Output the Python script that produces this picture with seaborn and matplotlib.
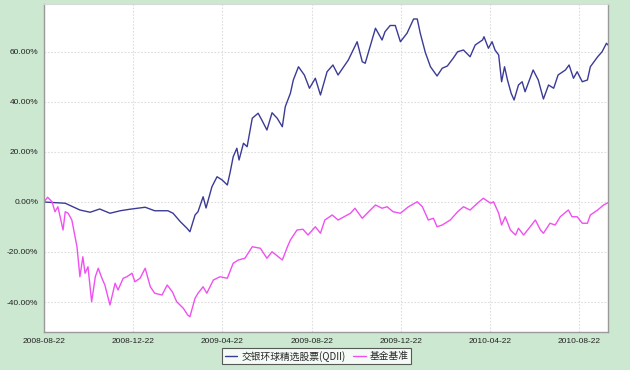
import numpy as np
import pandas as pd
import matplotlib
matplotlib.use('Agg')
import matplotlib.pyplot as plt
import matplotlib.dates as mdates
from matplotlib.ticker import FuncFormatter
import seaborn as sns

# fund (交银环球精选股票(QDII)) cumulative return, %
fund_dates = ['2008-08-22', '2008-09-20', '2008-10-10', '2008-10-24', '2008-11-06', '2008-11-20',
              '2008-12-04', '2008-12-17', '2009-01-07', '2009-01-20', '2009-02-07', '2009-02-14',
              '2009-02-24', '2009-03-05', '2009-03-09', '2009-03-16', '2009-03-20', '2009-03-27',
              '2009-03-31', '2009-04-08', '2009-04-15', '2009-04-22', '2009-04-29', '2009-05-03',
              '2009-05-07', '2009-05-12', '2009-05-15', '2009-05-21', '2009-05-26', '2009-06-02',
              '2009-06-10', '2009-06-15', '2009-06-22', '2009-06-29', '2009-07-06', '2009-07-13',
              '2009-07-17', '2009-07-24', '2009-07-28', '2009-08-04', '2009-08-12', '2009-08-19',
              '2009-08-27', '2009-09-03', '2009-09-12', '2009-09-20', '2009-09-27', '2009-10-11',
              '2009-10-23', '2009-10-30', '2009-11-03', '2009-11-17', '2009-11-26', '2009-11-30',
              '2009-12-07', '2009-12-14', '2009-12-21', '2009-12-30', '2010-01-08', '2010-01-13',
              '2010-01-17', '2010-01-24', '2010-01-31', '2010-02-09', '2010-02-16', '2010-02-23',
              '2010-03-03', '2010-03-09', '2010-03-17', '2010-03-26', '2010-04-02', '2010-04-12',
              '2010-04-14', '2010-04-20', '2010-04-25', '2010-04-29', '2010-05-04', '2010-05-08',
              '2010-05-12', '2010-05-16', '2010-05-21', '2010-05-25', '2010-05-31', '2010-06-05',
              '2010-06-09', '2010-06-20', '2010-06-27', '2010-07-04', '2010-07-11', '2010-07-18',
              '2010-07-24', '2010-08-03', '2010-08-08', '2010-08-14', '2010-08-19', '2010-08-26',
              '2010-09-02', '2010-09-06', '2010-09-16', '2010-09-22', '2010-09-28', '2010-09-30']
fund_vals = [0.0, -0.5, -3.2, -4.1, -2.8, -4.5,
             -3.5, -2.9, -2.1, -3.5, -3.5, -4.5,
             -7.9, -10.5, -11.9, -5.2, -3.9, 2.1,
             -2.4, 6.1, 10.1, 8.8, 6.8, 12.1,
             18.1, 21.5, 16.8, 23.5, 22.1, 33.5,
             35.5, 32.8, 28.8, 35.7, 33.5, 30.1,
             38.1, 43.5, 48.8, 54.1, 50.8, 45.5,
             49.5, 42.8, 52.1, 54.8, 50.8, 56.8,
             64.1, 56.1, 55.5, 69.5, 64.8, 68.1,
             70.6, 70.6, 64.1, 67.5, 73.2, 73.2,
             67.6, 59.8, 54.1, 50.4, 53.5, 54.4,
             57.5, 60.1, 60.8, 58.1, 62.8, 64.8,
             66.1, 61.5, 64.1, 60.8, 58.8, 48.1,
             54.1, 48.8, 43.5, 40.8, 46.8, 48.1,
             44.1, 52.8, 48.8, 41.2, 46.8, 45.5,
             50.8, 52.8, 54.8, 49.5, 52.1, 48.1,
             48.8, 54.1, 58.1, 60.1, 63.5, 62.8]

# benchmark (基金基准) cumulative return, %
bench_dates = ['2008-08-22', '2008-08-27', '2008-09-02', '2008-09-06', '2008-09-10', '2008-09-17',
               '2008-09-20', '2008-09-24', '2008-09-29', '2008-10-06', '2008-10-10', '2008-10-14',
               '2008-10-17', '2008-10-21', '2008-10-26', '2008-10-31', '2008-11-04', '2008-11-09',
               '2008-11-13', '2008-11-20', '2008-11-27', '2008-12-01', '2008-12-08', '2008-12-13',
               '2008-12-20', '2008-12-24', '2008-12-31', '2009-01-07', '2009-01-14', '2009-01-20',
               '2009-01-30', '2009-02-06', '2009-02-13', '2009-02-19', '2009-02-28', '2009-03-06',
               '2009-03-09', '2009-03-16', '2009-03-20', '2009-03-27', '2009-04-01', '2009-04-10',
               '2009-04-19', '2009-04-29', '2009-05-07', '2009-05-14', '2009-05-23', '2009-06-02',
               '2009-06-13', '2009-06-22', '2009-06-29', '2009-07-13', '2009-07-20', '2009-07-24',
               '2009-08-02', '2009-08-10', '2009-08-17', '2009-08-27', '2009-09-03', '2009-09-09',
               '2009-09-19', '2009-09-27', '2009-10-14', '2009-10-20', '2009-10-30', '2009-11-10',
               '2009-11-17', '2009-11-26', '2009-12-03', '2009-12-11', '2009-12-21', '2010-01-01',
               '2010-01-13', '2010-01-20', '2010-01-28', '2010-02-04', '2010-02-09', '2010-02-16',
               '2010-02-27', '2010-03-09', '2010-03-17', '2010-03-26', '2010-04-05', '2010-04-13',
               '2010-04-23', '2010-04-27', '2010-05-04', '2010-05-08', '2010-05-13', '2010-05-20',
               '2010-05-27', '2010-05-31', '2010-06-07', '2010-06-16', '2010-06-23', '2010-06-30',
               '2010-07-04', '2010-07-13', '2010-07-20', '2010-07-27', '2010-08-07', '2010-08-12',
               '2010-08-19', '2010-08-26', '2010-09-02', '2010-09-06', '2010-09-16', '2010-09-24',
               '2010-09-30']
bench_vals = [0.0, 1.9, 0.1, -3.9, -1.9, -11.2,
              -3.9, -4.5, -7.2, -17.9, -29.9, -21.9,
              -28.5, -25.9, -39.9, -29.9, -26.5, -30.5,
              -33.2, -41.2, -32.5, -35.2, -30.5, -29.9,
              -28.5, -31.9, -30.5, -26.5, -33.9, -36.5,
              -37.2, -33.2, -35.9, -39.9, -42.5, -45.2,
              -45.9, -38.5, -36.5, -33.9, -36.5, -31.2,
              -29.9, -30.5, -24.5, -23.2, -22.5, -17.9,
              -18.5, -22.5, -19.9, -23.2, -17.9, -15.2,
              -11.2, -10.9, -13.2, -9.9, -12.5, -7.2,
              -5.2, -7.2, -4.5, -2.5, -6.5, -3.2,
              -1.2, -2.5, -1.9, -3.9, -4.5, -1.9,
              0.1, -1.9, -7.2, -6.5, -9.9, -9.2,
              -7.2, -3.9, -1.9, -3.2, -0.5, 1.5,
              -0.5, 0.1, -4.5, -9.2, -5.9, -11.2,
              -13.2, -10.5, -13.2, -9.9, -7.2, -11.2,
              -12.5, -8.5, -9.2, -5.9, -3.2, -5.9,
              -5.9, -8.5, -8.5, -5.2, -3.2, -1.2,
              -0.3]

series_names = ['交银环球精选股票(QDII)', '基金基准']
tick_dates = ['2008-08-22', '2008-12-22', '2009-04-22', '2009-08-22',
              '2009-12-22', '2010-04-22', '2010-08-22']

df = pd.concat([
    pd.DataFrame({'date': pd.to_datetime(fund_dates), 'value': fund_vals, 'series': series_names[0]}),
    pd.DataFrame({'date': pd.to_datetime(bench_dates), 'value': bench_vals, 'series': series_names[1]}),
], ignore_index=True)

sns.set_style('white')
plt.rcParams['font.family'] = ['Liberation Sans', 'Noto Sans CJK SC', 'DejaVu Sans']

bg = '#CCE8D0'
fig = plt.figure(figsize=(6.3, 3.7), dpi=100, facecolor=bg)
ax = fig.add_axes([0.0698, 0.1027, 0.8952, 0.8865])
ax.set_facecolor('white')

sns.lineplot(data=df, x='date', y='value', hue='series', hue_order=series_names,
             palette=['#3B3B96', '#F050F0'], linewidth=1.0, ax=ax, legend=False)

ax.set_xlim(pd.Timestamp('2008-08-22'), pd.Timestamp('2010-09-30'))
ax.set_ylim(-52, 79.2)
ax.set_xticks(pd.to_datetime(tick_dates))
ax.xaxis.set_major_formatter(mdates.DateFormatter('%Y-%m-%d'))
ax.set_yticks([-40, -20, 0, 20, 40, 60])
ax.yaxis.set_major_formatter(FuncFormatter(lambda v, p: '{:.2f}%'.format(v)))
ax.tick_params(length=0, labelsize=6, pad=4, colors='#222222')
ax.set_xlabel('')
ax.set_ylabel('')

ax.grid(True, color='#DDDDDD', linestyle=(0, (1.5, 1.5)), linewidth=0.8)
for s in ['left', 'bottom', 'right']:
    ax.spines[s].set_color('#9A9A9A')
    ax.spines[s].set_linewidth(1.0)
ax.spines['top'].set_color('#D8D8D8')

handles = [plt.Line2D([], [], color='#3B3B96', lw=1.0),
           plt.Line2D([], [], color='#F050F0', lw=1.0)]
leg = fig.legend(handles, series_names, loc='lower center', bbox_to_anchor=(0.503, 0.003),
                 ncol=2, fontsize=7, frameon=True, fancybox=False, handlelength=1.3,
                 handletextpad=0.4, columnspacing=0.8, borderpad=0.25,
                 prop={'family': ['Noto Sans CJK SC', 'DejaVu Sans'], 'size': 7})
leg.get_frame().set_edgecolor('#333333')
leg.get_frame().set_linewidth(0.8)

fig.savefig('out.png', dpi=100, facecolor=bg)
